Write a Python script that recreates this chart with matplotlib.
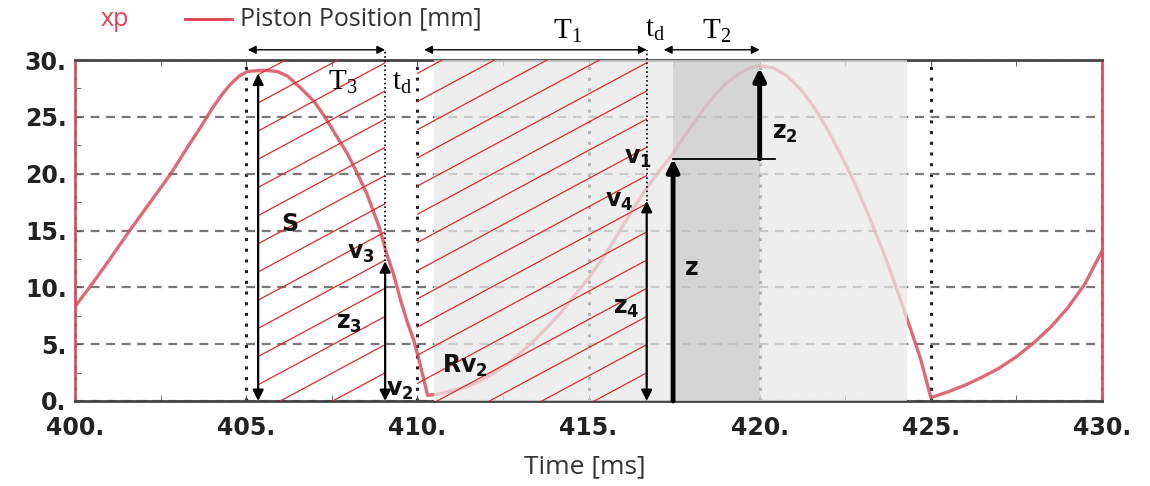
import matplotlib
matplotlib.use("Agg")
import matplotlib.pyplot as plt
from matplotlib.lines import Line2D
from matplotlib.patches import Rectangle
import numpy as np

plt.rcParams.update({
    "font.family": "DejaVu Sans",
    "mathtext.fontset": "dejavusans",
})

# piston position xp [mm] over time [ms]
TIME = [400.0, 400.5, 401.0, 401.6, 402.2, 402.8, 403.3, 403.65, 404.0, 404.3,
        404.55, 404.8, 405.05, 405.5, 405.9, 406.2, 406.57, 407.0, 407.3, 407.6,
        407.95, 408.25, 408.53, 408.9, 409.1, 409.3, 409.5, 409.7, 409.9, 410.05,
        410.18, 410.3, 410.6, 411.0, 411.4, 411.8, 412.2, 412.6, 413.0, 413.4,
        413.8, 414.2, 414.6, 415.0, 415.4, 415.8, 416.2, 416.6, 417.0, 417.4,
        417.8, 418.2, 418.6, 419.0, 419.4, 419.7, 420.0, 420.4, 420.8, 421.2,
        421.6, 422.0, 422.4, 422.8, 423.2, 423.6, 424.0, 424.4, 424.7, 425.0,
        425.5, 426.0, 426.5, 427.0, 427.5, 428.0, 428.5, 429.0, 429.5, 430.0]
POS = [8.3, 10.3, 12.4, 15.0, 17.5, 20.0, 22.4, 24.0, 25.7, 27.0,
       27.9, 28.6, 29.0, 29.1, 29.0, 28.6, 27.6, 26.3, 25.0, 23.5,
       21.8, 20.0, 18.2, 15.2, 13.0, 11.2, 9.0, 7.0, 5.3, 3.6,
       2.0, 0.5, 0.6, 0.9, 1.2, 1.7, 2.4, 3.2, 4.2, 5.3,
       6.5, 7.8, 9.3, 10.8, 12.5, 14.4, 16.4, 18.3, 20.0, 21.5,
       23.3, 25.0, 26.6, 27.9, 28.8, 29.3, 29.5, 29.3, 28.6, 27.4,
       25.8, 23.8, 21.5, 19.0, 16.2, 13.2, 9.9, 6.4, 3.7, 0.3,
       0.8, 1.4, 2.1, 2.9, 3.9, 5.1, 6.5, 8.2, 10.3, 13.2]

XTICKS = [400, 405, 410, 415, 420, 425, 430]
XTICK_LABELS = ["400.", "405.", "410.", "415.", "420.", "425.", "430."]
YTICKS = [0, 5, 10, 15, 20, 25, 30]
YTICK_LABELS = ["0.", "5.", "10.", "15.", "20.", "25.", "30."]

# phase boundaries [ms]
T3_START = 405.05
S_X = 405.35          # stroke arrow / start of T3 hatch
V3_X = 409.06         # end of T3
HATCH2_START = 410.0
T1_START = 410.2
V4_X = 416.7          # end of T1
T2_START = 417.2
Z_X = 417.47
PEAK_X = 420.0        # end of T2
SHADE_LIGHT = (410.5, 424.3)
SHADE_DARK = (Z_X, PEAK_X)

# marker levels [mm]
S_TOP = 28.8
V3_Y = 12.3
V4_Y = 17.6
V1_Y = 21.3
PEAK_Y = 29.3
TOP_ARROW_Y = 30.9

RED = "#d9505f"

fig = plt.figure(figsize=(11.5, 4.86), dpi=100)
ax = fig.add_axes([0.0652, 0.1749, 0.8931, 0.7016])

ax.set_xlim(400, 430)
ax.set_ylim(0, 30)
ax.set_xticks(XTICKS)
ax.set_xticklabels(XTICK_LABELS)
ax.set_yticks(YTICKS)
ax.set_yticklabels(YTICK_LABELS)
ax.set_xticks(np.arange(402.5, 430, 5), minor=True)
ax.set_yticks(np.arange(2.5, 30, 5), minor=True)
ax.tick_params(which="both", direction="in", length=4, color="#555",
               top=True, right=False)
ax.tick_params(which="major", labelsize=17)
ax.tick_params(axis="x", which="major", pad=11)
ax.tick_params(axis="y", which="major", pad=6)
for lab in ax.get_xticklabels() + ax.get_yticklabels():
    lab.set_fontweight("bold")
    lab.set_color("#222")

ax.set_axisbelow(True)
ax.yaxis.grid(True, linestyle=(0, (4, 3)), color="#777", linewidth=1.6)
ax.xaxis.grid(True, linestyle=(0, (1, 2.5)), color="#222", linewidth=2.2)

for side in ("left", "right"):
    ax.spines[side].set_color(RED)
    ax.spines[side].set_linewidth(2)
for side in ("top", "bottom"):
    ax.spines[side].set_color("#444")
    ax.spines[side].set_linewidth(2)

ax.plot(TIME, POS, color=RED, lw=2.4, alpha=0.85, zorder=2)

# shaded phases
ax.axvspan(*SHADE_LIGHT, color="#e9e9e9", alpha=0.73, lw=0, zorder=3)
ax.axvspan(*SHADE_DARK, color="#b8b8b8", alpha=0.45, lw=0, zorder=3)


def hatch(x0, x1, slope=1.62, step=2.48):
    rect = Rectangle((x0, 0), x1 - x0, 30, fill=False, lw=0)
    ax.add_patch(rect)
    for b in np.arange(-slope * (x1 - x0), 30, step):
        ln, = ax.plot([x0, x1], [b, b + slope * (x1 - x0)],
                      color="#e02a2a", lw=0.9, zorder=4)
        ln.set_clip_path(rect)


hatch(S_X, V3_X)
hatch(HATCH2_START, V4_X)

# dotted dead-time markers
ax.plot([V3_X, V3_X], [V3_Y, TOP_ARROW_Y], ls=":", color="black", lw=1.2,
        clip_on=False, zorder=5)
ax.plot([V4_X, V4_X], [V4_Y, TOP_ARROW_Y], ls=":", color="black", lw=1.2,
        clip_on=False, zorder=5)


def varrow(x, y0, y1, style, lw, ms):
    ax.annotate("", xy=(x, y1), xytext=(x, y0), annotation_clip=False,
                arrowprops=dict(arrowstyle=style, lw=lw, color="black",
                                mutation_scale=ms, shrinkA=0, shrinkB=0),
                zorder=6)


varrow(S_X, 0, S_TOP, "<|-|>", 1.6, 16)
varrow(V3_X, 0, V3_Y, "<|-|>", 1.6, 16)
varrow(V4_X, 0, V4_Y, "<|-|>", 1.6, 16)
varrow(Z_X, 0, V1_Y, "-|>", 3.5, 18)
varrow(PEAK_X, V1_Y, PEAK_Y, "-|>", 3.5, 18)
ax.plot([Z_X, 420.45], [V1_Y, V1_Y], color="black", lw=1.3, zorder=6)

# top time-interval arrows
for a, b in [(T3_START, V3_X), (T1_START, V4_X), (T2_START, PEAK_X)]:
    ax.annotate("", xy=(b, TOP_ARROW_Y), xytext=(a, TOP_ARROW_Y),
                annotation_clip=False,
                arrowprops=dict(arrowstyle="<|-|>", lw=1.0, color="black",
                                mutation_scale=12, shrinkA=0, shrinkB=0))

serif = dict(family="Liberation Serif", fontsize=21, ha="center",
             va="center", color="black", zorder=7, clip_on=False)
ax.text(407.83, 28.0, r"$\mathregular{T_3}$", **serif)
ax.text(409.55, 28.0, r"$\mathregular{t_d}$", **serif)
ax.text(414.4, 32.5, r"$\mathregular{T_1}$", **serif)
ax.text(416.95, 32.6, r"$\mathregular{t_d}$", **serif)
ax.text(418.75, 32.5, r"$\mathregular{T_2}$", **serif)

bold = dict(fontsize=17, ha="center", va="center", color="#111", zorder=7)
ax.text(406.28, 15.6, r"$\mathbf{S}$", **bold)
ax.text(408.35, 13.0, r"$\mathbf{v_3}$", **bold)
ax.text(408.0, 6.9, r"$\mathbf{z_3}$", **bold)
ax.text(409.5, 1.0, r"$\mathbf{v_2}$", **bold)
ax.text(411.4, 3.1, r"$\mathbf{Rv_2}$", **bold)
ax.text(415.9, 17.6, r"$\mathbf{v_4}$", **bold)
ax.text(416.1, 8.2, r"$\mathbf{z_4}$", **bold)
ax.text(418.0, 11.7, r"$\mathbf{z}$", **bold)
ax.text(416.45, 21.4, r"$\mathbf{v_1}$", **bold)
ax.text(420.75, 23.6, r"$\mathbf{z_2}$", **bold)

# legend row and axis label
fig.text(115 / 1150, 1 - 19 / 486, "xp", color="#e04050", fontsize=18,
         family="Open Sans", ha="center", va="center")
fig.add_artist(Line2D([185 / 1150, 232 / 1150], [1 - 19 / 486] * 2,
                      color="#e04050", lw=2))
fig.text(240 / 1150, 1 - 19 / 486, "Piston Position [mm]", color="#333",
         fontsize=18, family="Open Sans", ha="left", va="center")
fig.text(585 / 1150, 1 - 467 / 486, "Time [ms]", color="#333", fontsize=19,
         family="Open Sans", ha="center", va="center")

fig.savefig("out.png", dpi=100)
